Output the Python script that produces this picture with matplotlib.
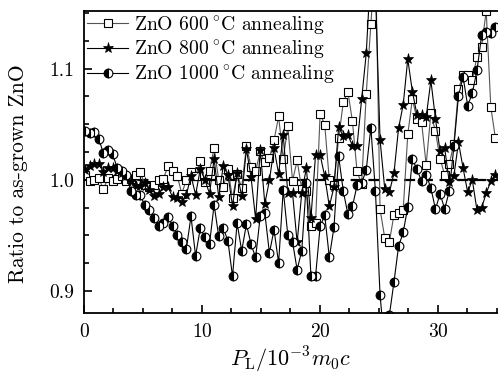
import matplotlib
matplotlib.use('Agg')
import matplotlib.pyplot as plt
from matplotlib.ticker import MultipleLocator

plt.rcParams['font.family'] = 'cmr10'
plt.rcParams['mathtext.fontset'] = 'cm'
plt.rcParams['axes.unicode_minus'] = False
plt.rcParams['axes.formatter.use_mathtext'] = True

# P_L / 10^-3 m0 c sampling points
p_l = [0.08, 0.47, 0.86, 1.25, 1.64, 2.04, 2.43, 2.82, 3.21, 3.60,
       3.99, 4.38, 4.77, 5.16, 5.55, 5.95, 6.34, 6.73, 7.12, 7.51,
       7.90, 8.29, 8.68, 9.07, 9.46, 9.86, 10.25, 10.64, 11.03, 11.42,
       11.81, 12.20, 12.59, 12.98, 13.37, 13.77, 14.16, 14.55, 14.94, 15.33,
       15.72, 16.11, 16.50, 16.89, 17.28, 17.68, 18.07, 18.46, 18.85, 19.24,
       19.63, 20.02, 20.41, 20.80, 21.19, 21.59, 21.98, 22.37, 22.76, 23.15,
       23.54, 23.93, 24.32, 24.71, 25.10, 25.50, 25.89, 26.28, 26.67, 27.06,
       27.45, 27.84, 28.23, 28.62, 29.01, 29.41, 29.80, 30.19, 30.58, 30.97,
       31.36, 31.75, 32.14, 32.53, 32.92, 33.32, 33.71, 34.10, 34.49, 34.88]

zno_600 = [1.004, 0.9985, 1.000, 1.0015, 0.9915, 1.0015, 0.9985, 1.001, 1.003, 0.999,
           1.0006, 1.0045, 1.0066, 0.9955, 0.9935, 0.995, 1.000, 1.001, 1.012, 1.0075,
           1.0036, 0.9875, 1.000, 1.0066, 1.0036, 1.017, 0.9976, 1.008, 1.0285, 1.000,
           0.9935, 1.0095, 0.9835, 1.0054, 0.993, 1.0306, 1.0115, 1.008, 1.0255, 1.0156,
           1.0195, 1.0355, 1.057, 1.0186, 1.048, 0.999, 1.0174, 0.9915, 0.990, 0.958,
           0.961, 1.0595, 1.0495, 0.9994, 0.9955, 1.0375, 1.0696, 1.0795, 1.0525, 1.0075,
           0.996, 1.0775, 1.14, 1.20, 0.9735, 0.9475, 0.944, 0.9685, 0.970, 0.9725,
           1.041, 1.0727, 1.0547, 1.052, 1.0135, 1.060, 1.0435, 1.0186, 1.0045, 1.0144,
           1.0324, 1.0817, 1.0946, 1.094, 1.090, 1.111, 1.120, 1.152, 1.0655, 1.0375]

zno_800 = [1.009, 1.0126, 1.0144, 1.0144, 1.0066, 1.0105, 1.0105, 1.008, 1.006, 1.0036,
           0.9985, 0.9946, 0.994, 0.997, 0.991, 0.985, 0.9875, 0.9935, 0.9935, 0.9845,
           0.9835, 0.9796, 0.9865, 1.0036, 0.9865, 1.0096, 1.000, 0.9875, 1.0186, 0.9845,
           1.0126, 1.0045, 0.9766, 1.006, 0.985, 1.0276, 1.0024, 0.9646, 1.027, 0.9784,
           0.9994, 1.0285, 1.0054, 1.0405, 0.988, 0.988, 0.9435, 0.988, 1.0105, 0.9655,
           1.0225, 1.0225, 1.003, 0.976, 0.9935, 1.0475, 1.039, 1.0405, 1.0306, 1.0306,
           1.0727, 1.114, 1.19, 1.17, 1.036, 0.9916, 0.9886, 1.006, 1.0465, 1.0675,
           1.1087, 1.0795, 1.0586, 1.0586, 1.0565, 1.0895, 1.0547, 1.0255, 1.0285, 0.9976,
           1.0036, 1.0336, 1.0105, 0.9886, 1.000, 0.9724, 0.9745, 0.988, 0.9985, 1.0045]

zno_1000 = [1.0435, 1.042, 1.043, 1.037, 1.024, 1.027, 1.023, 1.0105, 1.008, 1.0045,
            0.9895, 0.9865, 0.986, 0.977, 0.973, 0.9655, 0.958, 0.961, 0.9665, 0.9585,
            0.950, 0.944, 0.938, 0.967, 0.9315, 0.9565, 0.948, 0.942, 0.9775, 0.949,
            0.9565, 0.945, 0.913, 0.961, 0.936, 0.960, 0.942, 0.930, 0.967, 0.970,
            0.934, 0.955, 0.925, 0.991, 0.950, 0.944, 0.919, 0.936, 0.997, 0.913,
            0.913, 0.958, 0.968, 0.930, 0.957, 1.021, 0.990, 0.969, 0.976, 0.995,
            0.997, 1.009, 1.047, 0.9895, 0.896, 0.850, 0.878, 0.908, 0.940, 0.9525,
            0.9755, 1.0185, 1.0095, 0.9985, 1.0045, 0.9925, 0.9735, 0.9875, 0.9735, 0.990,
            1.030, 1.0757, 1.0925, 1.0667, 1.078, 1.0985, 1.130, 1.1335, 1.132, 1.138]

fig = plt.figure(figsize=(4.98, 3.76), dpi=100)
ax = fig.add_axes([0.1687, 0.1676, 0.8313, 0.8031])

ax.axhline(1.0, color='k', ls='--', dashes=(5, 3), lw=1.6, zorder=1.5)

ax.plot(p_l, zno_600, color='#555555', lw=0.8, marker='s', ms=5.8,
        mfc='white', mec='k', mew=0.8, label=r'ZnO 600$\,^{\circ}$C annealing')
ax.plot(p_l, zno_800, color='k', lw=0.8, marker='*', ms=8,
        mfc='k', mec='k', mew=0.5, label=r'ZnO 800$\,^{\circ}$C annealing')
ax.plot(p_l, zno_1000, color='k', lw=0.8, marker='o', ms=6.3,
        fillstyle='left', mfc='k', mfcalt='white', mec='k', mew=0.8,
        label=r'ZnO 1000$\,^{\circ}$C annealing')

ax.set_xlim(0, 35.1)
ax.set_ylim(0.880, 1.152)
ax.xaxis.set_major_locator(MultipleLocator(10))
ax.xaxis.set_minor_locator(MultipleLocator(2.5))
ax.yaxis.set_major_locator(MultipleLocator(0.1))
ax.yaxis.set_minor_locator(MultipleLocator(0.025))
ax.yaxis.set_major_formatter(plt.FuncFormatter(lambda v, p: '%.1f' % v))

ax.tick_params(which='both', direction='in', top=False, right=False,
               labelsize=14, width=1.2)
ax.tick_params(which='major', length=6, pad=7)
ax.tick_params(which='minor', length=3.5)
for s in ['left', 'bottom', 'top']:
    ax.spines[s].set_linewidth(1.3)
ax.spines['right'].set_visible(False)

ax.set_xlabel(r'$P_{\rm L}/10^{-3}m_0c$', fontsize=16, labelpad=3)
ax.set_ylabel('Ratio to as-grown ZnO', fontsize=15.5)
ax.yaxis.set_label_coords(-0.135, 0.46)

ax.legend(loc='upper left', frameon=False, fontsize=14.2, handlelength=2.1,
          handletextpad=0.3, labelspacing=0.1, borderaxespad=0.05,
          borderpad=0.1)

plt.savefig('out.png', dpi=100)
